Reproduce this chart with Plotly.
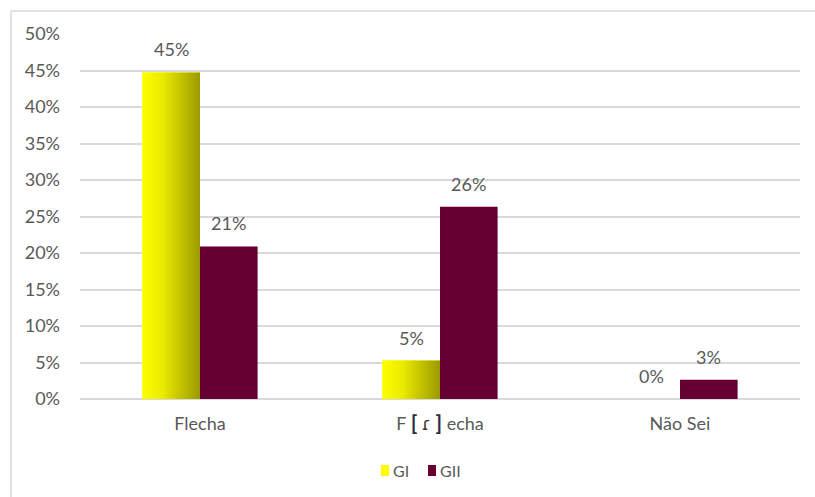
import plotly.graph_objects as go

# Share of answers per category, for the two groups
categories = [
    "Flecha",
    "F&nbsp;<b><span style='color:#2b2d4a;font-size:21px'>[</span></b>&nbsp;"
    "<span style='color:#3b3434;font-family:DejaVu Sans;font-size:17px'>ɾ</span>&nbsp;"
    "<b><span style='color:#2b2d4a;font-size:21px'>]</span></b>&nbsp;echa",
    "Não Sei",
]
gi_values = [0.4474, 0.0526, 0.0]
gii_values = [0.2090, 0.2632, 0.0263]
series_names = ["GI", "GII"]

y_ticks = [i / 100 for i in range(0, 51, 5)]

GII_COLOR = "#660033"
GI_LIGHT = "#ffff00"
GI_DARK = "#9a9a00"
TEXT_COLOR = "#595959"
GRID_COLOR = "#d9d9d9"
FONT = "Lato, 'Open Sans', sans-serif"
PCT_SIZE = 18

BAR_W = 0.24  # width of one bar in axis units
x_pos = list(range(len(categories)))

fig = go.Figure()

# Base bars
fig.add_trace(go.Bar(
    x=x_pos, y=gi_values, name=series_names[0], width=BAR_W, offset=-BAR_W,
    marker=dict(color=GI_LIGHT, line=dict(width=0)), showlegend=False,
))
fig.add_trace(go.Bar(
    x=x_pos, y=gii_values, name=series_names[1], width=BAR_W, offset=0,
    marker=dict(color=GII_COLOR, line=dict(width=0)), showlegend=False,
))

# Horizontal gradient fill laid over each GI bar
for xi, v in zip(x_pos, gi_values):
    if v <= 0:
        continue
    x0, x1 = xi - BAR_W, xi
    fig.add_trace(go.Scatter(
        x=[x0, x1, x1, x0, x0], y=[0, 0, v, v, 0],
        mode="lines", line=dict(width=0), fill="toself",
        fillgradient=dict(type="horizontal",
                          colorscale=[[0, GI_LIGHT], [0.35, "#eaea00"], [1, GI_DARK]]),
        showlegend=False, hoverinfo="skip",
    ))

# Value labels above the bars
for values, side in ((gi_values, -1), (gii_values, 1)):
    for xi, v in zip(x_pos, values):
        fig.add_annotation(x=xi + side * BAR_W / 2, y=v, text=f"{v:.0%}",
                           showarrow=False, yanchor="bottom", yshift=10,
                           font=dict(family=FONT, size=PCT_SIZE, color=TEXT_COLOR))

L, R, T, B = 80, 15, 34, 98
W, H = 815, 497
pw, ph = W - L - R, H - T - B


def px_x(p):
    return (p - L) / pw


def px_y(p):
    return (T + ph - p) / ph


# Outer chart frame
fig.add_shape(type="rect", xref="paper", yref="paper",
              x0=px_x(11), x1=px_x(W + 5), y0=px_y(H + 5), y1=px_y(11),
              line=dict(color=GRID_COLOR, width=1.5), fillcolor="rgba(0,0,0,0)",
              layer="below")

# Compact legend: small swatch followed closely by the series name
legend_items = [(series_names[0], GI_LIGHT, 381), (series_names[1], GII_COLOR, 428)]
for name, color, left in legend_items:
    fig.add_shape(type="rect", xref="paper", yref="paper",
                  x0=px_x(left), x1=px_x(left + 8), y0=px_y(476), y1=px_y(465),
                  line=dict(width=0), fillcolor=color)
    fig.add_annotation(xref="paper", yref="paper", x=px_x(left + 10), y=px_y(470),
                       xanchor="left", yanchor="middle", text=name, showarrow=False,
                       font=dict(family=FONT, size=16, color=TEXT_COLOR))

fig.update_layout(
    width=W, height=H,
    margin=dict(l=L, r=R, t=T, b=B),
    paper_bgcolor="white", plot_bgcolor="white",
    barmode="overlay",
    font=dict(family=FONT, size=14, color=TEXT_COLOR),
    showlegend=False,
    xaxis=dict(range=[-0.5, 2.5], tickvals=x_pos, ticktext=categories,
               showgrid=False, zeroline=False, showline=False, ticks="",
               ticklabelstandoff=12, fixedrange=True,
               tickfont=dict(family=FONT, size=18, color=TEXT_COLOR)),
    yaxis=dict(range=[0, 0.5], tickvals=y_ticks, tickformat=".0%",
               showgrid=True, gridcolor=GRID_COLOR, gridwidth=1.5,
               zeroline=True, zerolinecolor=GRID_COLOR, zerolinewidth=1.5,
               showline=False, ticks="", ticklabelstandoff=19, fixedrange=True,
               tickfont=dict(family=FONT, size=PCT_SIZE, color=TEXT_COLOR)),
)

fig.write_html("out.html")
